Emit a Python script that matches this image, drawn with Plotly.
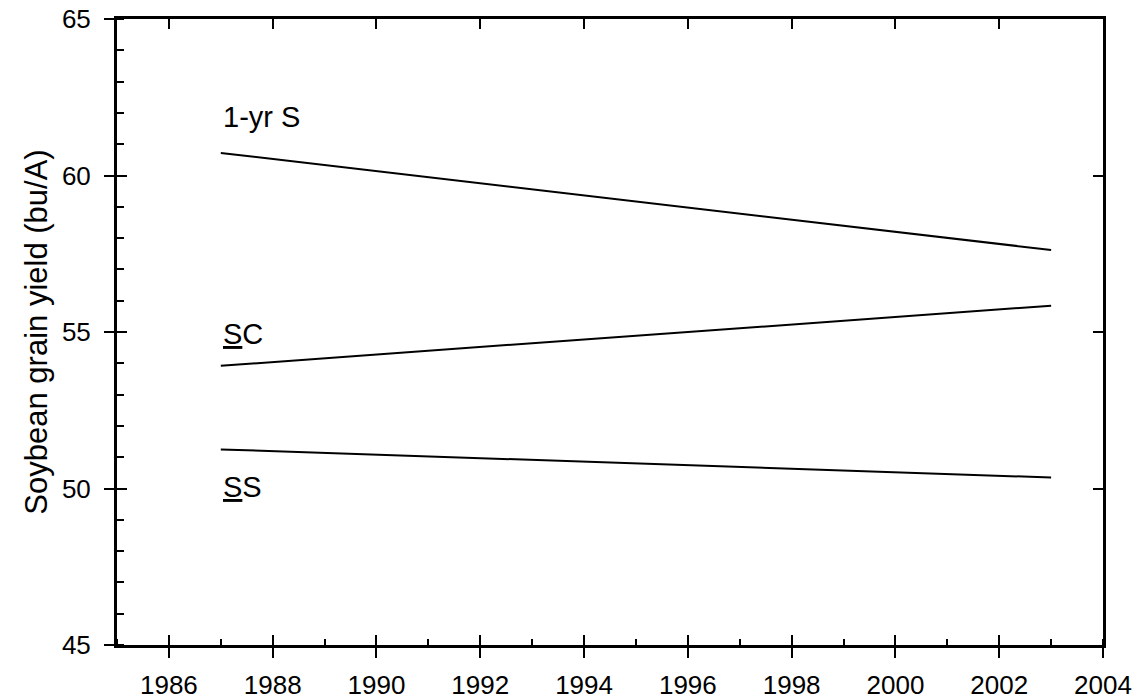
import plotly.graph_objects as go

years = [1987, 2003]
yield_1yr_s = [60.72, 57.62]
yield_sc = [53.92, 55.84]
yield_ss = [51.25, 50.35]

labels = ["1-yr S", "<span style='text-decoration:underline'>S</span>C",
          "<span style='text-decoration:underline'>S</span>S"]
label_x = [1987.0, 1987.0, 1987.0]
label_y = [61.87, 54.94, 50.05]

FONT = "Liberation Sans, Arial, sans-serif"
X_RANGE = [1985, 2004]
Y_RANGE = [45, 65]

fig = go.Figure()
for ys in (yield_1yr_s, yield_sc, yield_ss):
    fig.add_trace(go.Scatter(x=years, y=ys, mode="lines",
                             line=dict(color="black", width=2),
                             showlegend=False, hoverinfo="skip"))

# invisible copies so the overlay axes (extra tick sets / frame) get drawn
for xa, ya in (("x2", "y2"), ("x3", "y3")):
    fig.add_trace(go.Scatter(x=years, y=yield_ss, mode="lines", xaxis=xa, yaxis=ya,
                             line=dict(color="rgba(0,0,0,0)", width=0),
                             showlegend=False, hoverinfo="skip"))

for t, lx, ly in zip(labels, label_x, label_y):
    fig.add_annotation(x=lx, y=ly, text=t, showarrow=False, xanchor="left",
                       yanchor="middle", font=dict(family=FONT, size=29, color="black"))

common = dict(showgrid=False, zeroline=False, linecolor="black", tickcolor="black",
              automargin=False, fixedrange=True)

fig.update_layout(
    width=1138, height=699,
    margin=dict(l=117, r=35, t=19, b=54, autoexpand=False),
    paper_bgcolor="white", plot_bgcolor="white",
    font=dict(family=FONT, size=26, color="black"),
    xaxis=dict(range=X_RANGE, tickmode="linear", tick0=1986, dtick=2,
               ticks="outside", ticklen=10, tickwidth=1.5,
               showline=True, linewidth=3, ticklabelstandoff=5,
               minor=dict(ticks="inside", ticklen=6, tickwidth=1.5,
                          tickmode="linear", tick0=1985, dtick=1, tickcolor="black"),
               **common),
    xaxis2=dict(range=X_RANGE, overlaying="x", side="bottom", tickmode="linear",
                tick0=1986, dtick=2, ticks="inside", ticklen=10, tickwidth=1.5,
                showticklabels=False, showline=False, **common),
    xaxis3=dict(range=X_RANGE, overlaying="x", side="top", tickmode="linear",
                tick0=1986, dtick=2, ticks="inside", ticklen=10, tickwidth=1.5,
                showticklabels=False, showline=True, linewidth=3, **common),
    yaxis=dict(range=Y_RANGE, tickmode="linear", tick0=45, dtick=5,
               ticks="outside", ticklen=10, tickwidth=1.5,
               showline=True, linewidth=3, ticklabelstandoff=8,
               title=dict(text="Soybean grain yield (bu/A)", font=dict(size=31), standoff=6),
               minor=dict(ticks="inside", ticklen=7, tickwidth=1.5,
                          tickmode="linear", tick0=45, dtick=1, tickcolor="black"),
               **common),
    yaxis2=dict(range=Y_RANGE, overlaying="y", side="left", tickmode="linear",
                tick0=45, dtick=5, ticks="inside", ticklen=10, tickwidth=1.5,
                showticklabels=False, showline=False, **common),
    yaxis3=dict(range=Y_RANGE, overlaying="y", side="right", tickmode="linear",
                tick0=45, dtick=5, ticks="inside", ticklen=10, tickwidth=1.5,
                showticklabels=False, showline=True, linewidth=3, **common),
)

fig.write_html("out.html")
